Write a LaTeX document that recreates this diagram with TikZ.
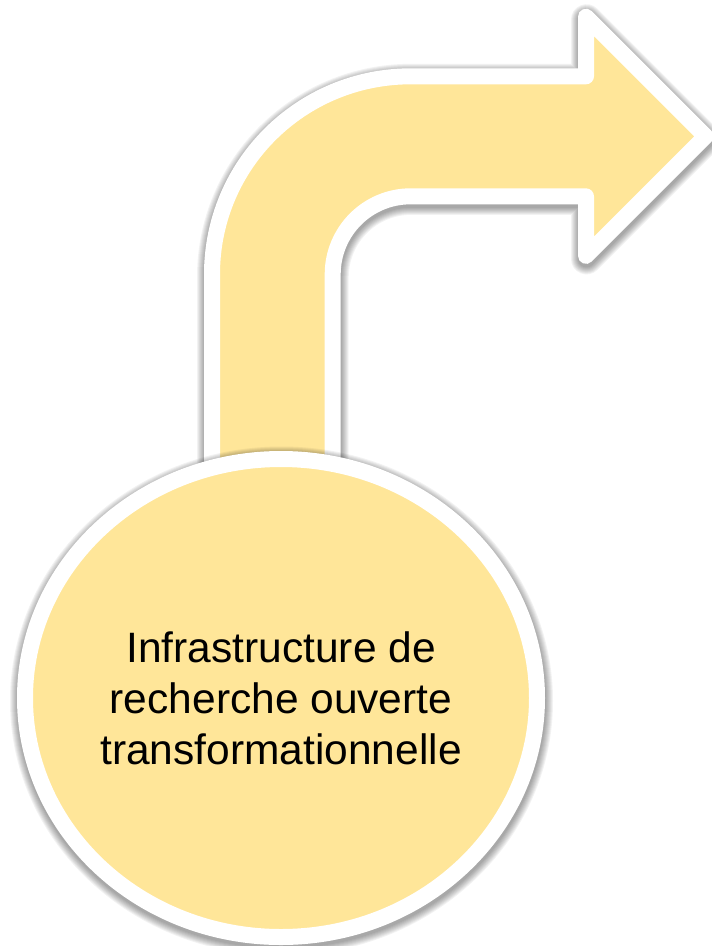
\documentclass[tikz,border=0pt]{standalone}
\usepackage{fontspec}
\setmainfont{Liberation Sans}
\usetikzlibrary{shapes.geometric}
\definecolor{goldfill}{HTML}{FFE699}
\def\arrowpath{(212,560) -- (212,274.3)
  .. controls (212,164.6) and (301,76.3) .. (410.7,76.3)
  -- (586,76.3) -- (586,16.7) -- (705.6,136.3) -- (586,255.9) -- (586,196.3)
  -- (410.7,196.3)
  .. controls (367.6,196.3) and (332.7,231.2) .. (332.7,274.3)
  -- (332.7,560) -- cycle}
\begin{document}
\begin{tikzpicture}[x=1pt,y=-1pt,
  outline/.style={fill=goldfill, draw=white, line width=16pt, line join=round},
  shadowlayer/.style={draw=black, opacity=0.05, line join=round, shift={(0.5,3)}}]
\useasboundingbox (0,0) rectangle (712,946);
% soft shadow of the bent arrow
\foreach \w in {17,19,...,31}
  \path[shadowlayer, line width=\w pt] \arrowpath;
\path[outline] \arrowpath;
% soft shadow of the ellipse
\foreach \w in {17,19,...,31}
  \path[shadowlayer, line width=\w pt] (281,698) ellipse [x radius=256, y radius=239];
\node[ellipse, outline, minimum width=512pt, minimum height=478pt,
  inner sep=0pt, align=center, font=\fontsize{42.5}{51}\selectfont]
  (hub) at (281,698) {Infrastructure de\\recherche ouverte\\transformationnelle};
\end{tikzpicture}
\end{document}
